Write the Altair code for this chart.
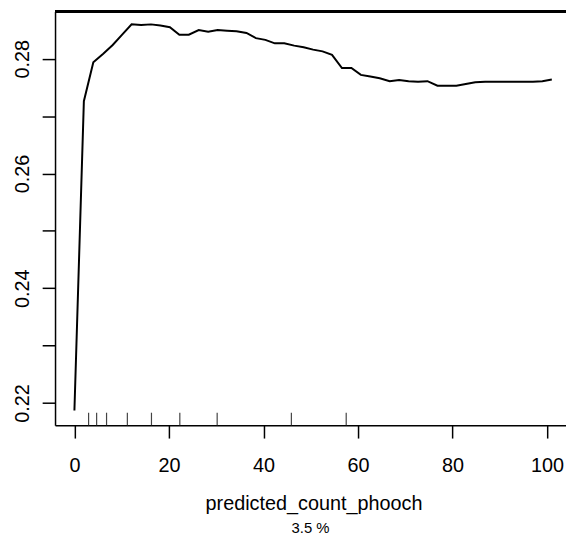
import altair as alt
import pandas as pd

# partial dependence values
x_vals = [0.0, 2.0, 4.0, 6.1, 8.1, 10.1, 12.1, 14.1, 16.2, 18.2, 20.2, 22.2, 24.2,
          26.3, 28.3, 30.3, 32.3, 34.3, 36.4, 38.4, 40.4, 42.4, 44.4, 46.5, 48.5,
          50.5, 52.5, 54.5, 56.6, 58.6, 60.6, 62.6, 64.6, 66.7, 68.7, 70.7, 72.7,
          74.7, 76.8, 78.8, 80.8, 82.8, 84.8, 86.9, 88.9, 90.9, 92.9, 94.9, 97.0,
          99.0, 101.0]
y_vals = [0.2187, 0.2726, 0.2794, 0.2809, 0.2824, 0.2842, 0.2860, 0.2859, 0.2860,
          0.2858, 0.2855, 0.2842, 0.2842, 0.2850, 0.2847, 0.2850, 0.2849, 0.2848,
          0.2845, 0.2836, 0.2833, 0.2827, 0.2827, 0.2823, 0.2820, 0.2816, 0.2813,
          0.2807, 0.2784, 0.2784, 0.2772, 0.2769, 0.2766, 0.2761, 0.2763, 0.2761,
          0.2760, 0.2761, 0.2753, 0.2753, 0.2753, 0.2756, 0.2759, 0.2760, 0.2760,
          0.2760, 0.2760, 0.2760, 0.2760, 0.2761, 0.2764]
rug_vals = [3.0, 4.7, 6.8, 11.2, 16.3, 22.3, 30.2, 45.9, 57.5]
x_ticks = [0, 20, 40, 60, 80, 100]
y_ticks = [0.22, 0.23, 0.24, 0.25, 0.26, 0.27, 0.28]
x_title = "predicted_count_phooch"
sub_title = "3.5 %"

W = 516
H = 417.7
FONT = "Liberation Sans"

pdp = pd.DataFrame({"x": x_vals, "y": y_vals})
rug = pd.DataFrame({"r": rug_vals})

xscale = alt.Scale(domain=[-4.1, 104.0], nice=False, zero=False)
yscale = alt.Scale(domain=[0.216133, 0.288234], nice=False, zero=False)

xaxis = alt.Axis(values=x_ticks, title=x_title, grid=False, tickSize=13,
                 labelFontSize=20, labelBaseline="middle", labelPadding=27.5,
                 labelFlush=False, labelOverlap=False,
                 titleFontSize=20, titleFontWeight="normal", titleBaseline="alphabetic",
                 titleY=85, titleX=261)
yaxis = alt.Axis(values=y_ticks, title=None, grid=False, tickSize=13,
                 labelFontSize=20, labelAngle=270, labelAlign="center",
                 labelBaseline="middle", labelPadding=19.6,
                 labelFlush=False, labelOverlap=False,
                 labelExpr="round(datum.value*100) % 2 == 0 ? format(datum.value, '.2f') : ''")

line = alt.Chart(pdp).mark_line(color="black", strokeWidth=2).encode(
    x=alt.X("x:Q", scale=xscale, axis=xaxis),
    y=alt.Y("y:Q", scale=yscale, axis=yaxis),
)

rugs = alt.Chart(rug).mark_rule(color="#444444", strokeWidth=1.2).encode(
    x=alt.X("r:Q", scale=xscale),
    y=alt.value(H - 12.6),
    y2=alt.value(H),
)

top = alt.Chart(pdp).mark_rule(color="black", strokeWidth=1.5).encode(
    x=alt.value(0), x2=alt.value(W), y=alt.value(0)
)

chart = alt.layer(line, rugs, top).properties(
    width=W,
    height=H,
    padding={"left": 47.5, "top": 1, "right": 0, "bottom": 110},
    autosize=alt.AutoSizeParams(type="none"),
    title=alt.TitleParams(sub_title, orient="bottom", fontSize=15, fontWeight="normal",
                          font=FONT, color="black", anchor="middle", offset=8),
).configure_view(stroke=None).configure_axis(
    domainColor="black", domainWidth=1.5, tickColor="black", tickWidth=1.5,
    labelColor="black", titleColor="black", labelFont=FONT, titleFont=FONT,
)

chart.save("out.html", embed_options={"renderer": "svg", "actions": False})
